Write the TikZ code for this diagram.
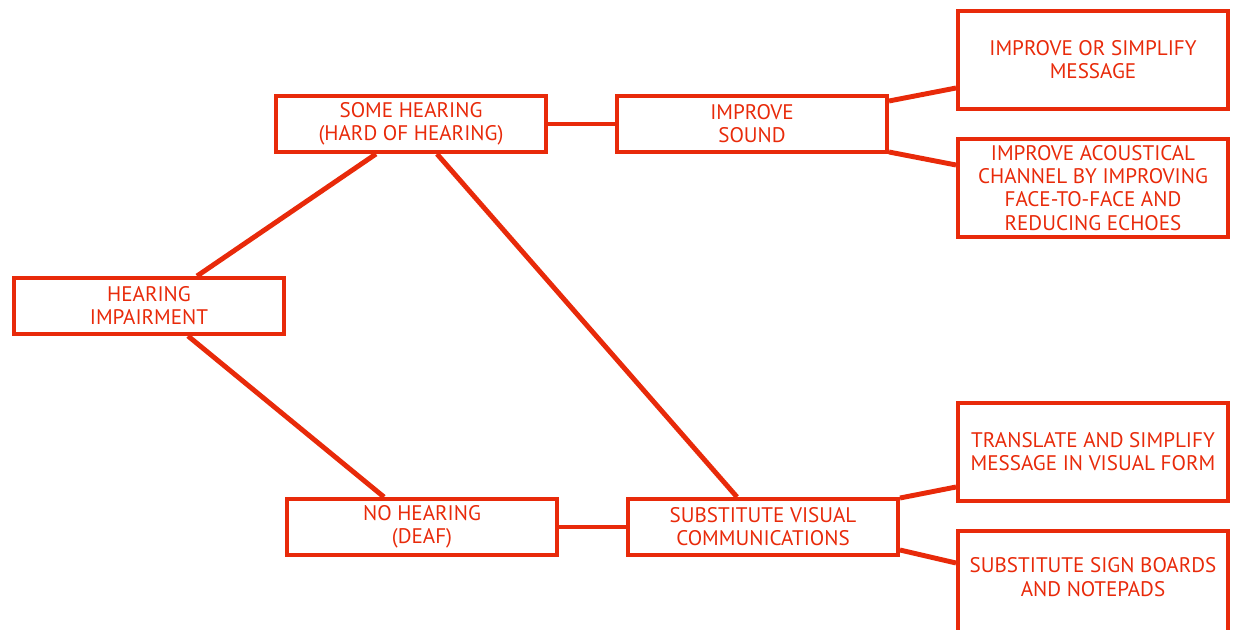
\documentclass[tikz,border=0pt]{standalone}
\usepackage{fontspec}
\setmainfont{PT Sans}
\usetikzlibrary{calc}
\definecolor{signred}{RGB}{232,42,10}
\begin{document}
\begin{tikzpicture}[x=0.025cm,y=-0.025cm,
        box/.style={draw=signred,line width=2.8pt,text=signred,align=center,
            minimum width=6.75cm,minimum height=1.4cm,inner sep=0pt,
            font=\fontsize{15}{16.5}\selectfont},
        tallbox/.style={box,minimum height=2.45cm},
        link/.style={draw=signred,line width=3.5pt}]
        \useasboundingbox (0,0) rectangle (1238,630);
        \clip (0,0) rectangle (1238,630);

        \node[box] (impair) at (149,306) {HEARING\\IMPAIRMENT};
        \node[box] (some) at (411,124) {SOME HEARING\\(HARD OF HEARING)};
        \node[box] (none) at (422,527) {NO HEARING\\(DEAF)};
        \node[box] (sound) at (752,124) {IMPROVE\\SOUND};
        \node[box] (visual) at (763,527) {SUBSTITUTE VISUAL\\COMMUNICATIONS};

        \node[tallbox] (message) at (1093,60) {IMPROVE OR SIMPLIFY\\MESSAGE};
        \node[tallbox] (channel) at (1093,188) {IMPROVE ACOUSTICAL\\CHANNEL BY IMPROVING\\FACE-TO-FACE AND\\REDUCING ECHOES};
        \node[tallbox] (translate) at (1093,452) {TRANSLATE AND SIMPLIFY\\MESSAGE IN VISUAL FORM};
        \node[tallbox,minimum height=2.65cm] (boards) at (1093,584) {SUBSTITUTE SIGN BOARDS\\AND NOTEPADS\rule[-0.35cm]{0pt}{0pt}};

        \draw[link] ($(impair.north)+(48,0)$) -- ($(some.south)+(-35,0)$);
        \draw[link] ($(impair.south)+(39,0)$) -- ($(none.north)+(-38,0)$);
        \draw[link] ($(some.south)+(26,0)$) -- ($(visual.north)+(-26,0)$);
        \draw[link] (some) -- (sound);
        \draw[link] (none) -- (visual);

        \draw[link] ($(sound.east)+(0,-23)$) -- ($(message.west)+(0,28)$);
        \draw[link] ($(sound.east)+(0,28)$) -- ($(channel.west)+(0,-23)$);
        \draw[link] ($(visual.east)+(0,-29)$) -- ($(translate.west)+(0,35)$);
        \draw[link] ($(visual.east)+(0,23)$) -- ($(boards.west)+(0,-21)$);
\end{tikzpicture}
\end{document}
